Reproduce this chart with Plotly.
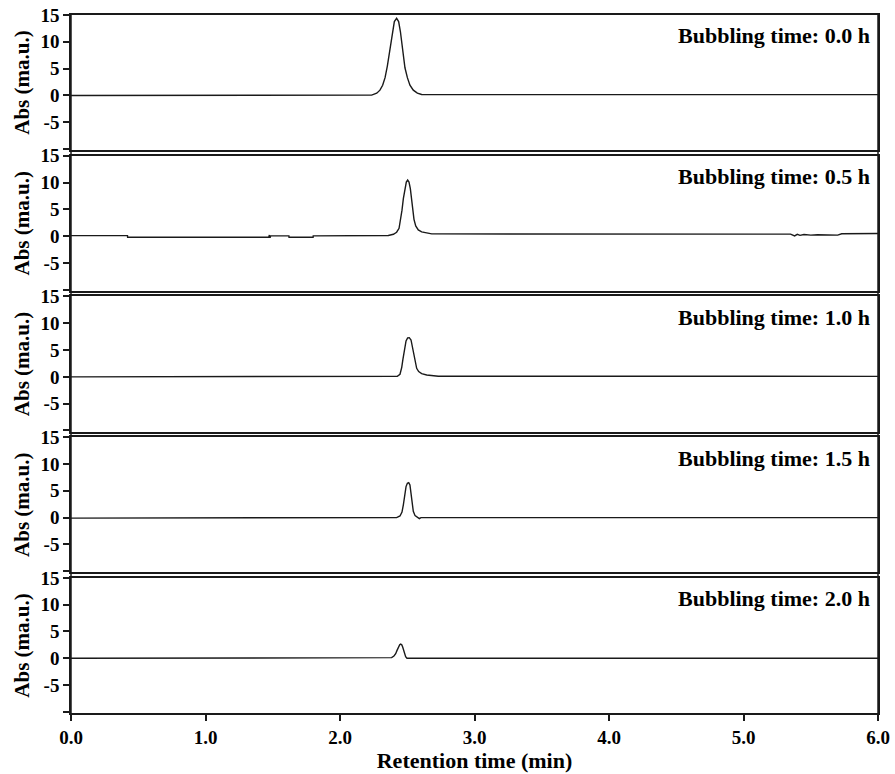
import plotly.graph_objects as go
from plotly.subplots import make_subplots

FONT = "Liberation Serif, Times New Roman, serif"
INK = "#1a1a1a"

# Panel captions (one chromatogram per bubbling time)
panel_labels = [
    "Bubbling time: 0.0 h",
    "Bubbling time: 0.5 h",
    "Bubbling time: 1.0 h",
    "Bubbling time: 1.5 h",
    "Bubbling time: 2.0 h",
]

x_tick_values = [0, 1, 2, 3, 4, 5, 6]
y_tick_values = [-10, -5, 0, 5, 10, 15]
y_tick_labels = ["", "-5", "0", "5", "10", "15"]

# Retention time (min) and absorbance (ma.u.) for each run
time_0h = [0.0, 2.235, 2.273, 2.297, 2.317, 2.335, 2.352, 2.367, 2.379, 2.392,
           2.404, 2.421, 2.436, 2.449, 2.461, 2.471, 2.483, 2.501, 2.520, 2.545,
           2.575, 2.607, 2.640, 6.0]
abs_0h = [0.0, 0.06, 0.42, 0.98, 1.90, 3.32, 5.47, 7.93, 10.08, 12.23,
          13.77, 14.39, 13.77, 11.92, 9.47, 7.31, 5.16, 3.32, 1.90, 0.98,
          0.42, 0.18, 0.15, 0.15]

time_05h = [0.0, 0.42, 0.421, 1.47, 1.475, 1.48, 1.485, 1.62, 1.621, 1.80,
            1.801, 2.359, 2.397, 2.421, 2.439, 2.451, 2.461, 2.471, 2.481, 2.493,
            2.503, 2.513, 2.523, 2.533, 2.540, 2.550, 2.563, 2.582, 2.607, 2.645,
            2.682, 5.35, 5.36, 5.38, 5.40, 5.42, 5.45, 5.50, 5.55, 5.60,
            5.70, 5.73, 6.0]
abs_05h = [0.1, 0.1, -0.2, -0.2, 0.2, -0.3, 0.05, 0.05, -0.2, -0.2,
           0.05, 0.12, 0.36, 0.73, 1.47, 3.01, 4.85, 7.0, 8.85, 10.08,
           10.45, 10.08, 8.85, 6.70, 4.85, 3.13, 1.90, 1.16, 0.79, 0.55,
           0.42, 0.38, 0.25, 0.05, 0.35, 0.15, 0.3, 0.2, 0.25, 0.2,
           0.2, 0.45, 0.5]

time_10h = [0.0, 2.397, 2.426, 2.446, 2.459, 2.468, 2.478, 2.491, 2.503, 2.515,
            2.528, 2.540, 2.550, 2.560, 2.570, 2.585, 2.607, 2.645, 2.694, 2.731,
            6.0]
abs_10h = [0.0, 0.0, 0.12, 0.49, 1.78, 3.32, 5.16, 6.70, 7.25, 7.31,
           6.88, 5.47, 3.93, 2.58, 1.59, 0.98, 0.61, 0.36, 0.24, 0.12,
           0.1]

time_15h = [0.0, 1.62, 1.625, 2.421, 2.446, 2.461, 2.471, 2.481, 2.491, 2.501,
            2.511, 2.520, 2.528, 2.535, 2.545, 2.558, 2.575, 2.590, 2.602, 6.0]
abs_15h = [-0.1, -0.1, 0.0, 0.0, 0.3, 1.04, 2.39, 4.24, 5.78, 6.39,
           6.51, 6.08, 4.54, 2.70, 1.16, 0.36, 0.06, -0.19, 0.0, 0.0]

time_20h = [0.0, 2.359, 2.384, 2.401, 2.414, 2.424, 2.434, 2.444, 2.451, 2.459,
            2.466, 2.474, 2.481, 2.488, 2.498, 6.0]
abs_20h = [0.0, 0.0, 0.12, 0.43, 0.86, 1.48, 2.09, 2.52, 2.64, 2.52,
           2.09, 1.48, 0.86, 0.31, 0.0, 0.0]

runs = [
    (time_0h, abs_0h),
    (time_05h, abs_05h),
    (time_10h, abs_10h),
    (time_15h, abs_15h),
    (time_20h, abs_20h),
]

fig = make_subplots(rows=5, cols=1, shared_xaxes=True, vertical_spacing=0.008)

for i, (t, a) in enumerate(runs, start=1):
    fig.add_trace(
        go.Scatter(x=t, y=a, mode="lines", line=dict(color=INK, width=1.4),
                   showlegend=False, hoverinfo="skip"),
        row=i, col=1,
    )
    fig.add_annotation(
        text=panel_labels[i - 1], x=0.993, xref="x domain",
        y=11.1, yref=f"y{'' if i == 1 else i}",
        xanchor="right", yanchor="middle", showarrow=False,
        font=dict(family=FONT, size=22, color="#000"),
    )
    fig.update_yaxes(
        range=[-10.2, 15], tickvals=y_tick_values, ticktext=y_tick_labels,
        ticks="outside", ticklen=6, tickwidth=1.5, tickcolor=INK,
        showline=True, linewidth=1.5, linecolor=INK, mirror=True,
        showgrid=False, zeroline=False, automargin=False,
        tickfont=dict(family=FONT, size=19, color="#000"),
        title=dict(text="<b>Abs (ma.u.)</b>", standoff=5,
                   font=dict(family=FONT, size=21, color="#000")),
        row=i, col=1,
    )
    fig.update_xaxes(
        range=[0, 6], showline=True, linewidth=1.5, linecolor=INK, mirror=True,
        showgrid=False, zeroline=False, automargin=False,
        ticks="outside" if i == 5 else "", ticklen=6, tickwidth=1.5, tickcolor=INK,
        tickvals=x_tick_values, tickformat=".1f",
        tickfont=dict(family=FONT, size=19, color="#000"),
        row=i, col=1,
    )

fig.update_xaxes(
    title=dict(text="<b>Retention time (min)</b>", standoff=6,
               font=dict(family=FONT, size=22, color="#000")),
    row=5, col=1,
)

# continuous frame edges down the full stack
for xp in (0, 1):
    fig.add_shape(type="line", xref="paper", yref="paper", x0=xp, x1=xp, y0=0, y1=1,
                  line=dict(color=INK, width=1.5))

fig.update_layout(
    width=895, height=774,
    margin=dict(l=71, r=17, t=15, b=61),
    paper_bgcolor="white", plot_bgcolor="white",
    font=dict(family=FONT, color="#000", weight="bold"),
)

fig.write_html("out.html")
